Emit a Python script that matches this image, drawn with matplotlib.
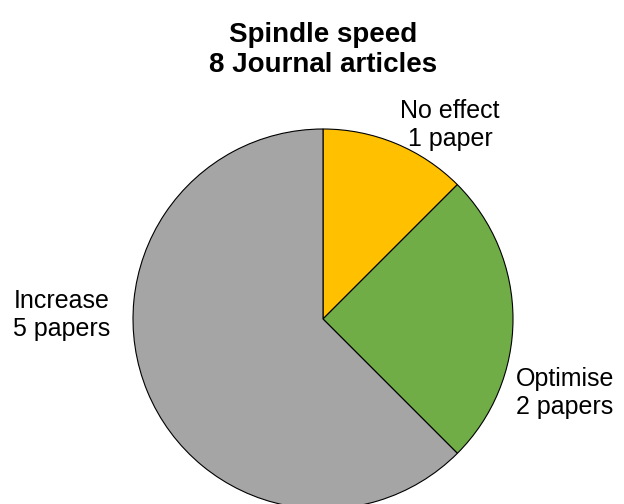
import matplotlib.pyplot as plt

plt.rcParams['font.family'] = ['Liberation Sans', 'DejaVu Sans']

# Data
labels = ['No effect\n1 paper', 'Optimise\n2 papers', 'Increase\n5 papers']
papers = [1, 2, 5]
colors = ['#FFC000', '#70AD47', '#A5A5A5']
title = 'Spindle speed\n8 Journal articles'

fig = plt.figure(figsize=(6.24, 5.04), dpi=100)

# pie centered at (323, 319) px, radius 190 px
cx, cy, r = 323, 319, 190
W, H = 624, 504
ax = fig.add_axes([(cx - r) / W, (H - cy - r) / H, 2 * r / W, 2 * r / H])
ax.pie(papers, colors=colors, startangle=90, counterclock=False,
       wedgeprops=dict(edgecolor='black', linewidth=0.8), radius=1.0)
ax.set_xlim(-1, 1)
ax.set_ylim(-1, 1)
ax.set_aspect('equal')
ax.axis('off')

# labels placed outside the pie
label_pos = [(0.668, 1.02), (1.274, -0.39), (-1.374, 0.02)]
for lab, (x, y) in zip(labels, label_pos):
    ax.text(x, y, lab, ha='center', va='center', fontsize=18, color='black',
            clip_on=False)

fig.text(cx / W, 1 - 50 / H, title, ha='center', va='center',
         fontsize=20, fontweight='bold')

plt.savefig('out.png', dpi=100)
